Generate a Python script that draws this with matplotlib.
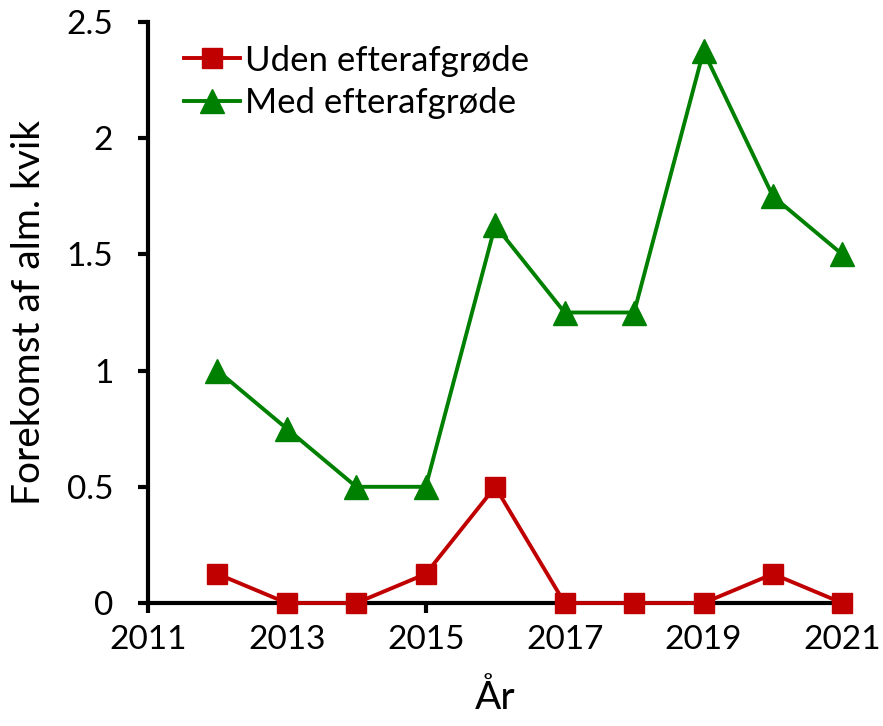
import matplotlib
matplotlib.use('Agg')
from matplotlib import pyplot as plt

years = [2012, 2013, 2014, 2015, 2016, 2017, 2018, 2019, 2020, 2021]
uden = [0.125, 0, 0, 0.125, 0.5, 0, 0, 0, 0.125, 0]
med = [1.0, 0.75, 0.5, 0.5, 1.625, 1.25, 1.25, 2.375, 1.75, 1.5]

plt.rcParams['font.family'] = ['Lato', 'DejaVu Sans']

fig = plt.figure(figsize=(8.83, 7.26), dpi=100)
ax = fig.add_axes([0.1676, 0.1694, 0.7864, 0.8003])

ax.plot(years, uden, color='#C00000', linewidth=2.8, marker='s', markersize=14.5,
        label='Uden efterafgrøde', clip_on=False, zorder=3)
ax.plot(years, med, color='#008000', linewidth=2.8, marker='^', markersize=17,
        label='Med efterafgrøde', clip_on=False, zorder=3)

ax.set_xlim(2011, 2021)
ax.set_ylim(0, 2.5)
ax.set_xticks([2011, 2013, 2015, 2017, 2019, 2021])
ax.set_yticks([0, 0.5, 1, 1.5, 2, 2.5])
ax.set_yticklabels(['0', '0.5', '1', '1.5', '2', '2.5'])
ax.tick_params(labelsize=24, width=3, length=7, direction='out', color='black')
ax.tick_params(axis='x', pad=9)
ax.tick_params(axis='y', pad=18)
for s in ['top', 'right']:
    ax.spines[s].set_visible(False)
for s in ['left', 'bottom']:
    ax.spines[s].set_linewidth(3)

ax.set_xlabel('År', fontsize=28, labelpad=18)
ax.set_ylabel('Forekomst af alm. kvik', fontsize=28, labelpad=14)

ax.legend(loc='upper left', bbox_to_anchor=(0.02, 1.0), fontsize=25, frameon=False,
          handlelength=1.6, handletextpad=0.15, labelspacing=0.3, borderaxespad=0.25)

fig.savefig('out.png', dpi=100)
